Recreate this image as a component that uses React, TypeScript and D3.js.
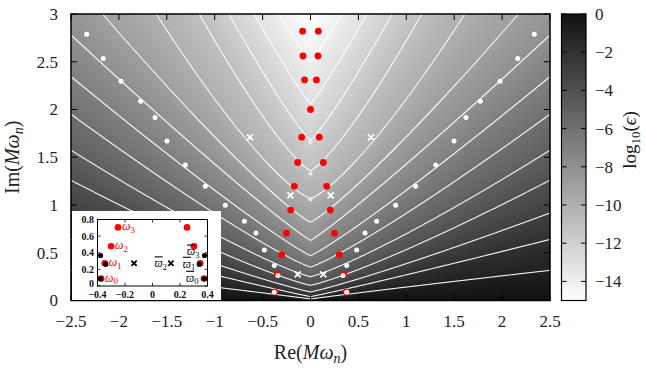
import { useMemo } from "react";
import * as d3 from "d3";

const W = 645;
const H = 369;
const plot = { x0: 71, x1: 550, y0: 14, y1: 300.5 };
const TXT = { fontFamily: "Liberation Serif" };

// log10(eps) contour family: each level is a V whose tip
// sits on the imaginary axis at VERTEX_IM; its arms follow VERTEX_IM + ARM_RISE * |Re|^ARM_POWER
const LEVELS = [0, -1, -2, -3, -4, -5, -6, -7, -8, -9, -10, -11, -12, -13, -14, -15, -16, -17];
const VERTEX_IM = [0, 0.015, 0.04, 0.09, 0.16, 0.25, 0.35, 0.47, 0.63, 0.82, 1.07, 1.36, 1.68, 2.06, 2.49, 2.95, 3.45, 4.0];
const ARM_RISE = [0, 0.126, 0.229, 0.296, 0.373, 0.449, 0.563, 0.684, 0.799, 0.894, 1.039, 1.362, 1.59, 1.68, 1.63, 1.65, 1.7, 1.75];
const ARM_POWER = [1, 0.95, 1.05, 1.12, 1.18, 1.18, 1.14, 1.1, 1.08, 1.15, 1.3, 1.25, 1.15, 1.1, 1.05, 1, 1, 1];
const CONTOUR_LEVELS = [-1, -2, -3, -4, -5, -6, -7, -8, -9, -10, -11, -12, -13, -14];

// quasinormal modes (red), right half; mirrored except the one on the axis
const QNM_RE = [0.374, 0.347, 0.301, 0.251, 0.207, 0.169, 0.134, 0.092, 0, 0.062, 0.078, 0.082];
const QNM_IM = [0.089, 0.274, 0.478, 0.705, 0.947, 1.196, 1.445, 1.71, 2.0, 2.31, 2.56, 2.82];

// white dots, right half
const DOT_RE = [0.378, 0.34, 0.378, 0.482, 0.569, 0.69, 0.889, 1.098, 1.307, 1.498, 1.623, 1.773, 1.978, 2.163, 2.336];
const DOT_IM = [0.087, 0.262, 0.367, 0.53, 0.706, 0.83, 0.997, 1.196, 1.42, 1.67, 1.916, 2.087, 2.297, 2.535, 2.787];

// white crosses, right half
const CROSS_RE = [0.134, 0.21, 0.631];
const CROSS_IM = [0.273, 1.1, 1.707];

// tiny rings on the imaginary axis
const AXIS_RING_IM = [1.06, 1.33, 1.66, 2.41];

const X_TICKS = [-2.5, -2, -1.5, -1, -0.5, 0, 0.5, 1, 1.5, 2, 2.5];
const Y_TICKS = [0, 0.5, 1, 1.5, 2, 2.5, 3];
const CB_TICKS = [0, -2, -4, -6, -8, -10, -12, -14];
const INSET_X_TICKS = [-0.4, -0.2, 0, 0.2, 0.4];
const INSET_Y_TICKS = [0, 0.2, 0.4, 0.6, 0.8];

const fmt = (v: number) => (v < 0 ? "\u2212" + String(-v) : String(v));

const levelCurve = (i: number, ax: number) => VERTEX_IM[i] + ARM_RISE[i] * Math.pow(ax, ARM_POWER[i]);

function logEps(re: number, im: number) {
  const ax = Math.abs(re);
  if (im <= 0) return 0;
  let prev = levelCurve(0, ax);
  for (let i = 1; i < LEVELS.length; i++) {
    const cur = levelCurve(i, ax);
    if (im <= cur) {
      const t = (im - prev) / (cur - prev);
      return LEVELS[i - 1] + t * (LEVELS[i] - LEVELS[i - 1]);
    }
    prev = cur;
  }
  return LEVELS[LEVELS.length - 1];
}

const mirror = (re: number[], im: number[]) =>
  re.flatMap((r, i) => (r === 0 ? [[0, im[i]]] : [[-r, im[i]], [r, im[i]]]));

export default function App() {
  const x = d3.scaleLinear().domain([-2.5, 2.5]).range([plot.x0, plot.x1]);
  const y = d3.scaleLinear().domain([0, 3]).range([plot.y1, plot.y0]);
  const shade = d3.scaleLinear().domain([-15, 0]).range([255, 17]).clamp(true);

  const bgHref = useMemo(() => {
    const w = Math.round(plot.x1 - plot.x0);
    const h = Math.round(plot.y1 - plot.y0);
    const canvas = document.createElement("canvas");
    canvas.width = w;
    canvas.height = h;
    const ctx = canvas.getContext("2d")!;
    const img = ctx.createImageData(w, h);
    for (let j = 0; j < h; j++) {
      for (let i = 0; i < w; i++) {
        const v = logEps(x.invert(plot.x0 + i + 0.5), y.invert(plot.y0 + j + 0.5));
        const g = Math.round(shade(v));
        const k = (j * w + i) * 4;
        img.data[k] = g;
        img.data[k + 1] = g;
        img.data[k + 2] = g;
        img.data[k + 3] = 255;
      }
    }
    ctx.putImageData(img, 0, 0);
    return canvas.toDataURL();
  }, []);

  const contourPaths = useMemo(() => {
    const pad = 4;
    const step = 0.5;
    const gx0 = plot.x0 - pad;
    const gy0 = plot.y0 - pad;
    const nx = Math.ceil((plot.x1 - plot.x0 + 2 * pad) / step);
    const ny = Math.ceil((plot.y1 - plot.y0 + 2 * pad) / step);
    const values = new Array(nx * ny);
    for (let j = 0; j < ny; j++) {
      for (let i = 0; i < nx; i++) {
        values[j * nx + i] = logEps(
          x.invert(gx0 + (i + 0.5) * step),
          y.invert(gy0 + (j + 0.5) * step)
        );
      }
    }
    const contours = d3.contours().size([nx, ny]).thresholds(CONTOUR_LEVELS)(values);
    const path = d3.geoPath(
      d3.geoTransform({
        point(this: any, px: number, py: number) {
          this.stream.point(gx0 + px * step, gy0 + py * step);
        },
      })
    );
    return contours.map((c) => path(c) || "");
  }, []);

  const qnms = mirror(QNM_RE, QNM_IM);
  const dots = mirror(DOT_RE, DOT_IM);
  const crosses = mirror(CROSS_RE, CROSS_IM);

  // inset
  const ix = d3.scaleLinear().domain([-0.4, 0.4]).range([97.5, 207.5]);
  const iy = d3.scaleLinear().domain([0, 0.8]).range([286, 219.5]);
  const insetQnm = mirror(QNM_RE.slice(0, 4), QNM_IM.slice(0, 4));
  const insetDots = mirror(DOT_RE.slice(0, 3), DOT_IM.slice(0, 3));
  const insetCross = mirror(CROSS_RE.slice(0, 1), CROSS_IM.slice(0, 1));

  // colorbar
  const cb = { x0: 561.5, x1: 586, y0: 14, y1: 300.5 };
  const cy = d3.scaleLinear().domain([-15, 0]).range([cb.y1, cb.y0]);

  const crossPath = "M-3,-3L3,3M-3,3L3,-3";
  const tick = 6;

  const varpiLabels = [
    { n: 3, re: DOT_RE[2], im: DOT_IM[2], dx: -5, dy: 0 },
    { n: 1, re: QNM_RE[1], im: QNM_IM[1], dx: -5, dy: 4.5 },
    { n: 0, re: DOT_RE[0], im: DOT_IM[0], dx: -6, dy: 3 },
    { n: 2, re: CROSS_RE[0], im: CROSS_IM[0], dx: -4, dy: 4 },
  ];

  return (
    <svg width={W} height={H} style={{ display: "block", position: "absolute", left: 0, top: 0, ...TXT }}>
      <defs>
        <clipPath id="plot-clip">
          <rect x={plot.x0} y={plot.y0} width={plot.x1 - plot.x0} height={plot.y1 - plot.y0} />
        </clipPath>
        <linearGradient id="cb-grad" x1="0" y1="0" x2="0" y2="1">
          <stop offset="0%" stopColor={d3.rgb(shade(0), shade(0), shade(0)).formatHex()} />
          <stop offset="100%" stopColor={d3.rgb(shade(-15), shade(-15), shade(-15)).formatHex()} />
        </linearGradient>
      </defs>
      <rect width={W} height={H} fill="#fff" />

      <image href={bgHref} x={plot.x0} y={plot.y0} width={plot.x1 - plot.x0} height={plot.y1 - plot.y0} preserveAspectRatio="none" />

      <g clipPath="url(#plot-clip)" fill="none" stroke="#fff" strokeWidth={1.1} strokeOpacity={0.95}>
        {contourPaths.map((d, i) => (
          <path key={i} d={d} />
        ))}
      </g>

      {/* markers */}
      <g clipPath="url(#plot-clip)">
        {AXIS_RING_IM.map((v, i) => (
          <circle key={i} cx={x(0)} cy={y(v)} r={1.6} fill="#ddd" stroke="#fff" strokeWidth={0.8} />
        ))}
        {qnms.map(([re, im], i) => (
          <circle key={i} cx={x(re)} cy={y(im)} r={3.4} fill="#ff0000" />
        ))}
        {dots.map(([re, im], i) => (
          <circle key={i} cx={x(re)} cy={y(im)} r={2.5} fill="#fff" />
        ))}
        {crosses.map(([re, im], i) => (
          <path key={i} d={crossPath} transform={`translate(${x(re)},${y(im)})`} stroke="#fff" strokeWidth={1.8} fill="none" />
        ))}
      </g>

      {/* axes ticks */}
      <g stroke="#000" strokeWidth={1}>
        {X_TICKS.map((t) => (
          <g key={t}>
            <line x1={x(t)} x2={x(t)} y1={plot.y1} y2={plot.y1 - tick} />
            <line x1={x(t)} x2={x(t)} y1={plot.y0} y2={plot.y0 + tick} />
          </g>
        ))}
        {Y_TICKS.map((t) => (
          <g key={t}>
            <line x1={plot.x0} x2={plot.x0 + tick} y1={y(t)} y2={y(t)} />
            <line x1={plot.x1} x2={plot.x1 - tick} y1={y(t)} y2={y(t)} />
          </g>
        ))}
      </g>
      <rect x={plot.x0} y={plot.y0} width={plot.x1 - plot.x0} height={plot.y1 - plot.y0} fill="none" stroke="#000" strokeWidth={1.5} />

      <g fontSize={17} fill="#222" style={TXT}>
        {X_TICKS.map((t) => (
          <text key={t} x={x(t)} y={327} textAnchor="middle" style={TXT}>{fmt(t)}</text>
        ))}
        {Y_TICKS.map((t) => (
          <text key={t} x={58} y={y(t)} dy="0.35em" textAnchor="end" style={TXT}>{fmt(t)}</text>
        ))}
      </g>

      <text x={x(0)} y={359} textAnchor="middle" fontSize={20} fill="#222" style={TXT}>
        Re(<tspan fontStyle="italic">M</tspan><tspan fontStyle="italic">ω</tspan>
        <tspan fontStyle="italic" fontSize={14} dy={4}>n</tspan><tspan dy={-4}>)</tspan>
      </text>
      <text transform={`translate(19,${y(1.5)}) rotate(-90)`} textAnchor="middle" fontSize={20} fill="#222" style={TXT}>
        Im(<tspan fontStyle="italic">M</tspan><tspan fontStyle="italic">ω</tspan>
        <tspan fontStyle="italic" fontSize={14} dy={4}>n</tspan><tspan dy={-4}>)</tspan>
      </text>

      {/* inset */}
      <rect x={72} y={211} width={149} height={89} fill="#fff" />
      <rect x={ix(-0.4)} y={iy(0.8)} width={ix(0.4) - ix(-0.4)} height={iy(0) - iy(0.8)} fill="none" stroke="#000" strokeWidth={1} />
      <g stroke="#000" strokeWidth={0.8}>
        {INSET_X_TICKS.map((t) => (
          <g key={t}>
            <line x1={ix(t)} x2={ix(t)} y1={iy(0)} y2={iy(0) - 3} />
            <line x1={ix(t)} x2={ix(t)} y1={iy(0.8)} y2={iy(0.8) + 3} />
          </g>
        ))}
        {INSET_Y_TICKS.map((t) => (
          <g key={t}>
            <line x1={ix(-0.4)} x2={ix(-0.4) + 3} y1={iy(t)} y2={iy(t)} />
            <line x1={ix(0.4)} x2={ix(0.4) - 3} y1={iy(t)} y2={iy(t)} />
          </g>
        ))}
      </g>
      <g fontSize={10} fontWeight="bold" fill="#111">
        {INSET_X_TICKS.map((t) => (
          <text key={t} x={ix(t)} y={297.5} textAnchor="middle" style={TXT}>{fmt(t)}</text>
        ))}
        {INSET_Y_TICKS.map((t) => (
          <text key={t} x={94} y={iy(t) - (t === 0 ? 3 : 0)} dy="0.35em" textAnchor="end" style={TXT}>{fmt(t)}</text>
        ))}
      </g>
      {insetQnm.map(([re, im], i) => (
        <circle key={i} cx={ix(re)} cy={iy(im)} r={3.3} fill="#ff0000" />
      ))}
      {insetDots.map(([re, im], i) => (
        <circle key={i} cx={ix(re)} cy={iy(im)} r={2.6} fill="#000" />
      ))}
      {insetCross.map(([re, im], i) => (
        <path key={i} d="M-2.6,-2.6L2.6,2.6M-2.6,2.6L2.6,-2.6" transform={`translate(${ix(re)},${iy(im)})`} stroke="#000" strokeWidth={1.8} fill="none" />
      ))}
      <g fontSize={12} fill="#ff0000" fontStyle="italic">
        {[0, 1, 2, 3].map((n) => (
          <text key={n} x={ix(-QNM_RE[n]) + 4} y={iy(QNM_IM[n]) + 3} style={TXT}>
            ω<tspan fontSize={9} dy={2.5} fontStyle="normal">{n}</tspan>
          </text>
        ))}
      </g>
      <g fontSize={11.5} fill="#111">
        {varpiLabels.map((l) => (
          <text key={l.n} x={ix(l.re) + l.dx} y={iy(l.im) + l.dy} textAnchor="end" style={TXT}>
            <tspan fontStyle="italic" textDecoration="overline">ϖ</tspan>
            <tspan fontSize={8.5} dy={2.5}>{l.n}</tspan>
          </text>
        ))}
      </g>

      {/* colorbar */}
      <rect x={cb.x0} y={cb.y0} width={cb.x1 - cb.x0} height={cb.y1 - cb.y0} fill="url(#cb-grad)" stroke="#000" strokeWidth={1.2} />
      <g stroke="#000" strokeWidth={1}>
        {CB_TICKS.map((t) => (
          <g key={t}>
            <line x1={cb.x0} x2={cb.x0 + 5} y1={cy(t)} y2={cy(t)} />
            <line x1={cb.x1} x2={cb.x1 - 5} y1={cy(t)} y2={cy(t)} />
          </g>
        ))}
      </g>
      <g fontSize={17} fill="#222">
        {CB_TICKS.map((t) => (
          <text key={t} x={595} y={cy(t)} dy="0.35em" style={TXT}>{fmt(t)}</text>
        ))}
      </g>
      <text transform={`translate(636,140) rotate(-90)`} textAnchor="middle" fontSize={19} fill="#222" style={TXT}>
        log<tspan fontSize={13} dy={4}>10</tspan><tspan dy={-4}>(</tspan><tspan fontStyle="italic">ϵ</tspan>)
      </text>
    </svg>
  );
}
